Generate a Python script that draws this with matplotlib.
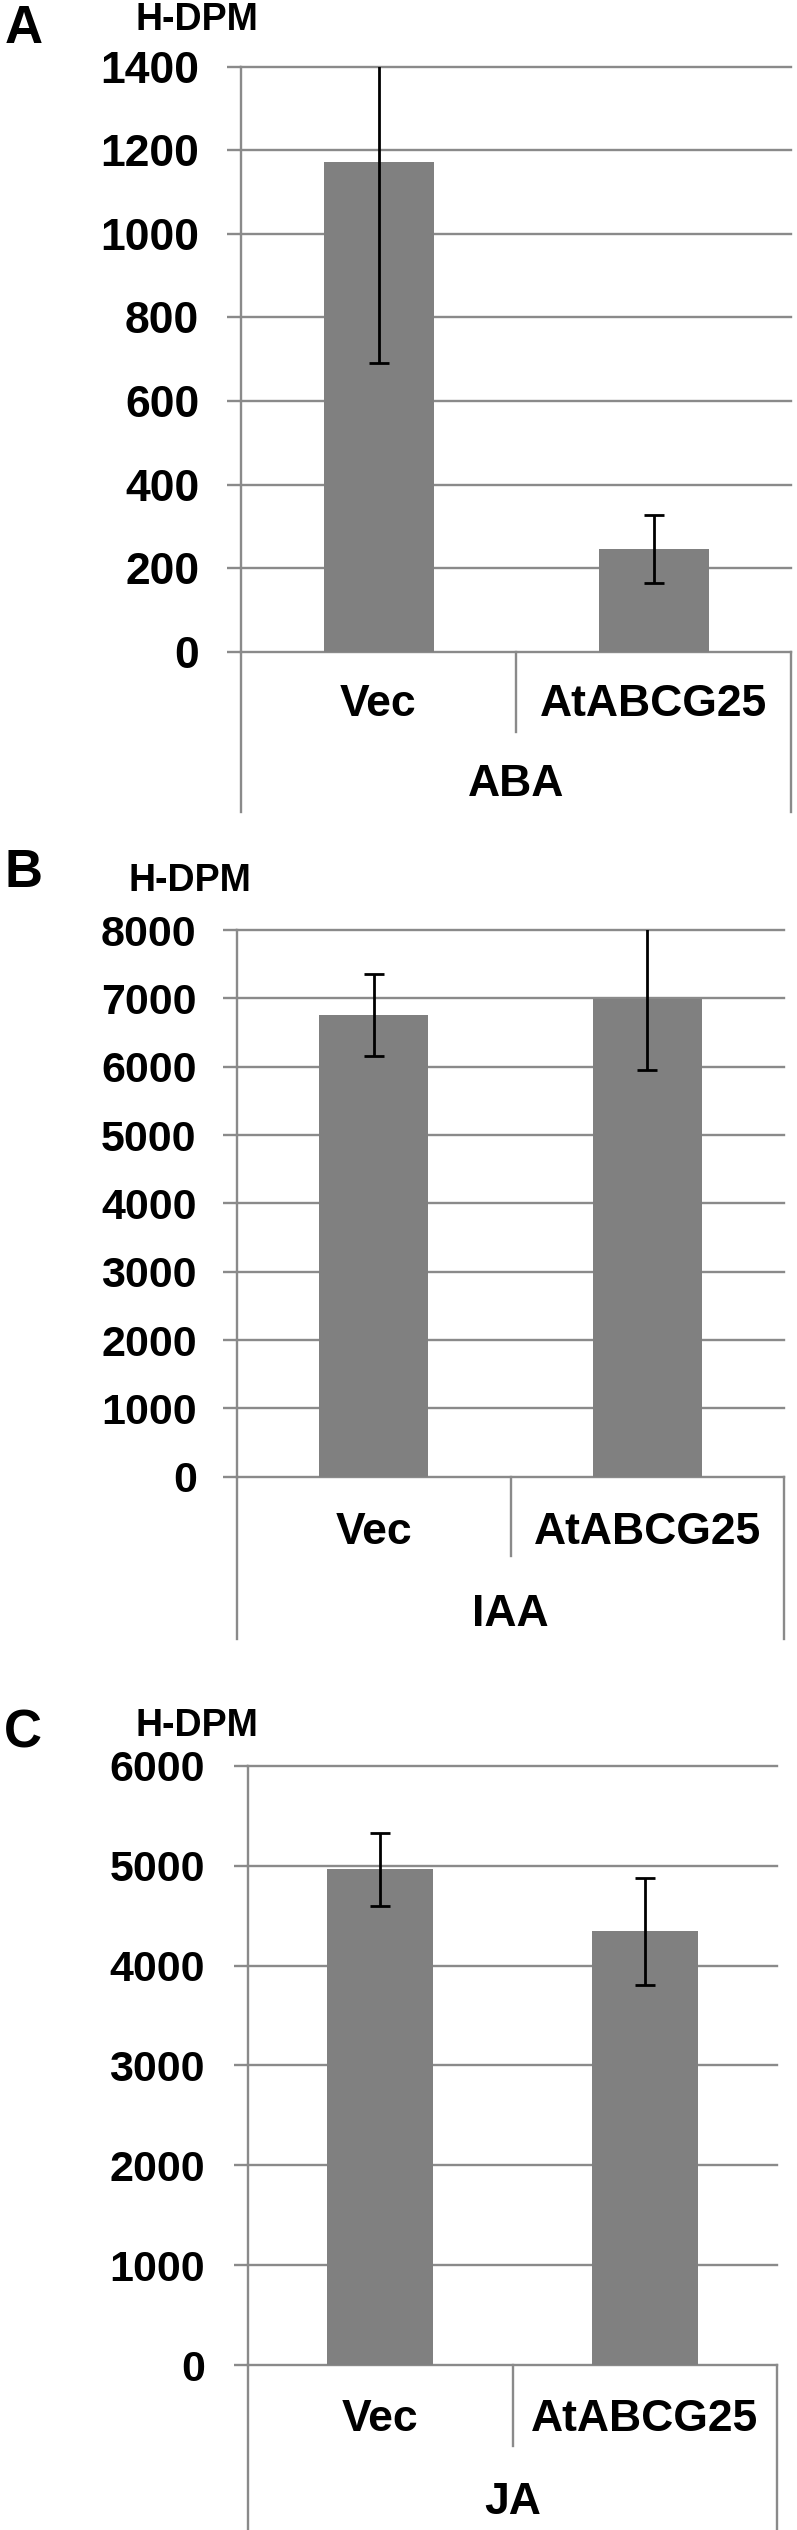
import matplotlib
matplotlib.use("Agg")
import matplotlib.pyplot as plt
import matplotlib.transforms as mtransforms

plt.rcParams['font.family'] = ['Liberation Sans', 'DejaVu Sans']
plt.rcParams['font.weight'] = 'bold'

# ---- data ----
groups = ["Vec", "AtABCG25"]
panel_letters = ["A", "B", "C"]
hormones = ["ABA", "IAA", "JA"]
ylabel = "H-DPM"
aba_means = [1171, 245]
aba_errs = [480, 81]
iaa_means = [6762, 6993]
iaa_errs = [600, 1043]
ja_means = [4962, 4342]
ja_errs = [364, 533]
aba_ticks = [0, 200, 400, 600, 800, 1000, 1200, 1400]
iaa_ticks = [0, 1000, 2000, 3000, 4000, 5000, 6000, 7000, 8000]
ja_ticks = [0, 1000, 2000, 3000, 4000, 5000, 6000]

W, H = 797, 2530
fig = plt.figure(figsize=(W / 100, H / 100), dpi=100)

GRID = "#8a8a8a"
BAR = "#808080"

layouts = [
    dict(l=241, r=791, top=66.7, zero=651.7, sep=731.7, outer=811.7, caty=704, grpy=784,
         ylab=(197, 20), let=(24, 29), fs=32, pad=20),
    dict(l=237, r=784, top=930, zero=1476.7, sep=1556.4, outer=1638.9, caty=1533, grpy=1614.5,
         ylab=(190, 881), let=(24, 873), fs=31, pad=19),
    dict(l=248, r=777, top=1765.8, zero=2365.1, sep=2445.5, outer=2530, caty=2419.4, grpy=2502.5,
         ylab=(197, 1726), let=(23, 1734), fs=31, pad=21),
]
means_all = [aba_means, iaa_means, ja_means]
errs_all = [aba_errs, iaa_errs, ja_errs]
ticks_all = [aba_ticks, iaa_ticks, ja_ticks]

for i, L in enumerate(layouts):
    ax = fig.add_axes([L['l'] / W, 1 - L['zero'] / H, (L['r'] - L['l']) / W,
                       (L['zero'] - L['top']) / H])
    ticks = ticks_all[i]
    ymax = ticks[-1]
    ax.set_xlim(0, 2)
    ax.set_ylim(0, ymax)
    xs = [0.5, 1.5]
    ax.bar(xs, means_all[i], width=0.4, color=BAR, zorder=2)
    ax.errorbar(xs, means_all[i], yerr=errs_all[i], fmt='none', ecolor='black',
                elinewidth=2, capsize=7.5, capthick=2, zorder=3)
    ax.set_yticks(ticks)
    ax.set_yticklabels([str(t) for t in ticks], fontsize=L['fs'], fontweight='bold')
    ax.set_xticks([])
    for t in ticks:
        ax.axhline(t, color=GRID, lw=1.7, zorder=1, clip_on=False)
    ax.tick_params(axis='y', length=10, width=1.7, color=GRID, pad=L['pad'])
    for s in ['top', 'right', 'bottom']:
        ax.spines[s].set_visible(False)
    ax.spines['left'].set_color(GRID)
    ax.spines['left'].set_linewidth(1.7)

    hpx = L['zero'] - L['top']

    def yax(py, L=L, hpx=hpx):
        return (L['zero'] - py) / hpx

    trans = mtransforms.blended_transform_factory(ax.transData, ax.transAxes)
    ax.plot([0, 0], [0, yax(L['outer'])], transform=trans, color=GRID, lw=1.7, clip_on=False)
    ax.plot([2, 2], [0, yax(L['outer'])], transform=trans, color=GRID, lw=1.7, clip_on=False)
    ax.plot([1, 1], [0, yax(L['sep'])], transform=trans, color=GRID, lw=1.7, clip_on=False)
    for x, g in zip(xs, groups):
        ax.text(x, yax(L['caty']), g, transform=trans, ha='center', va='center',
                fontsize=32, fontweight='bold')
    ax.text(1, yax(L['grpy']), hormones[i], transform=trans, ha='center', va='center',
            fontsize=32, fontweight='bold')
    fig.text(L['ylab'][0] / W, 1 - L['ylab'][1] / H, ylabel, ha='center', va='center',
             fontsize=27, fontweight='bold')
    fig.text(L['let'][0] / W, 1 - L['let'][1] / H, panel_letters[i], ha='center',
             va='center', fontsize=38, fontweight='bold')

fig.savefig("out.png", dpi=100, facecolor='white')
